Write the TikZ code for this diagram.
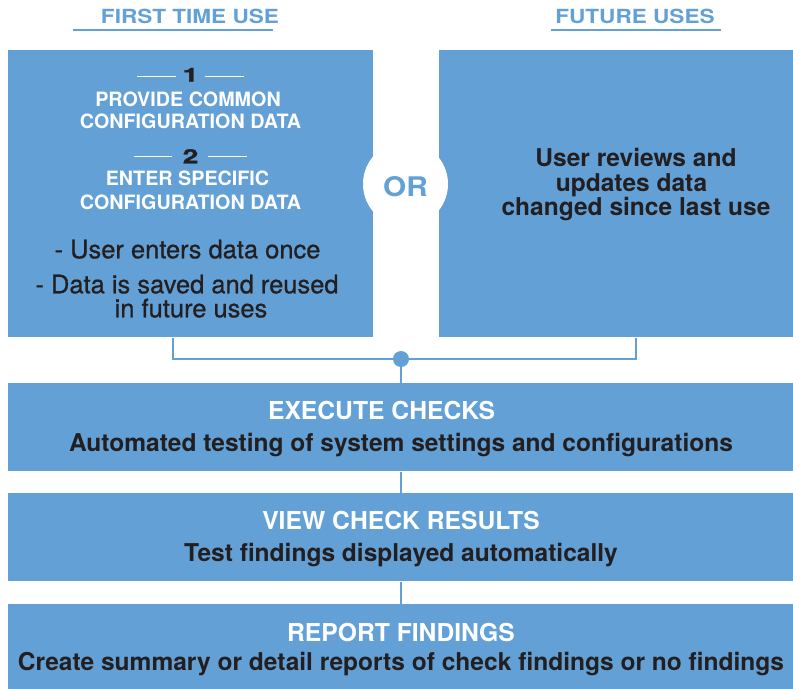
\documentclass[tikz,border=0pt]{standalone}
\usepackage{fontspec}
\setmainfont{TeX Gyre Heros}
\newfontfamily\widefont[FakeStretch=1.16]{TeX Gyre Heros}
\newfontfamily\orfont[FakeStretch=1.1]{TeX Gyre Heros}
\newfontfamily\numfont[FakeStretch=1.45,FakeBold=1.5]{TeX Gyre Heros}
\newfontfamily\medfont[FakeBold=0.7]{TeX Gyre Heros}
\definecolor{boxblue}{RGB}{98,160,214}
\definecolor{ink}{RGB}{35,31,32}

\tikzset{
  panel/.style={fill=boxblue, draw=none, inner sep=0pt, anchor=north west},
  link/.style={draw=boxblue, line width=1.5pt},
  rule/.style={draw=boxblue, line width=1.7pt},
  numrule/.style={draw=white, line width=0.9pt},
  head/.style={anchor=base, text=boxblue, font=\widefont\bfseries\fontsize{14.6pt}{16pt}\selectfont},
  capw/.style={anchor=base, text=white, font=\bfseries\fontsize{14.8pt}{16pt}\selectfont},
  numtxt/.style={anchor=base, text=ink, font=\numfont\bfseries\fontsize{14.6pt}{16pt}\selectfont},
  plain/.style={anchor=base, text=ink, font=\medfont\fontsize{19.1pt}{20pt}\selectfont},
  darkb/.style={anchor=base, text=ink, font=\bfseries\fontsize{18.4pt}{20pt}\selectfont},
  titlew/.style={anchor=base, text=white, font=\bfseries\fontsize{18.5pt}{20pt}\selectfont},
}

\begin{document}
\begin{tikzpicture}[x=0.75pt,y=-0.75pt]
\useasboundingbox (0,0) rectangle (793,689);

% column headings
\node[head] (hfirst) at (190,23.3) {FIRST TIME USE};
\node[head] (hfuture) at (635,23) {FUTURE USES};
\draw[rule] (73,30) -- (273,30);
\draw[rule] (551,30) -- (721,30);

% upper panels
\node[panel, minimum width=273.75pt, minimum height=215.25pt] (first) at (8,50) {};
\node[panel, minimum width=265.5pt, minimum height=215.25pt] (future) at (439,50) {};

% OR badge
\node[circle, fill=white, inner sep=0pt, minimum size=63.75pt] (orbadge) at (405.5,184) {};
\node[anchor=base, text=boxblue, font=\orfont\bfseries\fontsize{20.25pt}{22pt}\selectfont] (ortext) at (405.5,196) {OR};

% first-time panel contents
\node[numtxt] (n1) at (190.5,81.7) {1};
\draw[numrule] (137,76.5) -- (176,76.5);
\draw[numrule] (205,76.5) -- (244,76.5);
\node[capw] (s1a) at (188,106) {PROVIDE COMMON};
\node[capw] (s1b) at (190.5,128.3) {CONFIGURATION DATA};
\node[numtxt] (n2) at (190.5,163.3) {2};
\draw[numrule] (134,156.5) -- (172,156.5);
\draw[numrule] (208,156.5) -- (247,156.5);
\node[capw] (s2a) at (187.5,185.7) {ENTER SPECIFIC};
\node[capw] (s2b) at (190.5,209) {CONFIGURATION DATA};
\node[plain] (b1) at (187.5,258.3) {- User enters data once};
\node[plain] (b2a) at (187,293.3) {- Data is saved and reused};
\node[plain] (b2b) at (191,317.3) {in future uses};

% future-use panel contents
\node[darkb] (f1) at (636,166) {User reviews and};
\node[darkb] (f2) at (631.5,191) {updates data};
\node[darkb] (f3) at (636,215) {changed since last use};

% process steps
\node[panel, minimum width=589.125pt, minimum height=66pt] (exec) at (7.5,383) {};
\node[panel, minimum width=589.125pt, minimum height=66pt] (results) at (7.5,493) {};
\node[panel, minimum width=589.125pt, minimum height=63.75pt] (report) at (7.5,604) {};

\node[titlew] (t1) at (381.5,419.3) {EXECUTE CHECKS};
\node[darkb] (d1) at (401,451) {Automated testing of system settings and configurations};
\node[titlew] (t2) at (401,529.3) {VIEW CHECK RESULTS};
\node[darkb] (d2) at (401,561.7) {Test findings displayed automatically};
\node[titlew] (t3) at (401,641) {REPORT FINDINGS};
\node[darkb] (d3) at (401,670) {Create summary or detail reports of check findings or no findings};

% connectors
\coordinate (jl) at (173,359);
\coordinate (jr) at (636,359);
\coordinate (hubpt) at (401,359);
\draw[link] (first.south -| jl) -- (jl) -- (jr) -- (future.south -| jr);
\draw[link] (hubpt) -- (exec.north -| hubpt);
\node[circle, fill=boxblue, inner sep=0pt, minimum size=12pt] (hub) at (hubpt) {};
\draw[link] (exec.south -| hub) -- (results.north -| hub);
\draw[link] (results.south -| hub) -- (report.north -| hub);
\end{tikzpicture}
\end{document}
